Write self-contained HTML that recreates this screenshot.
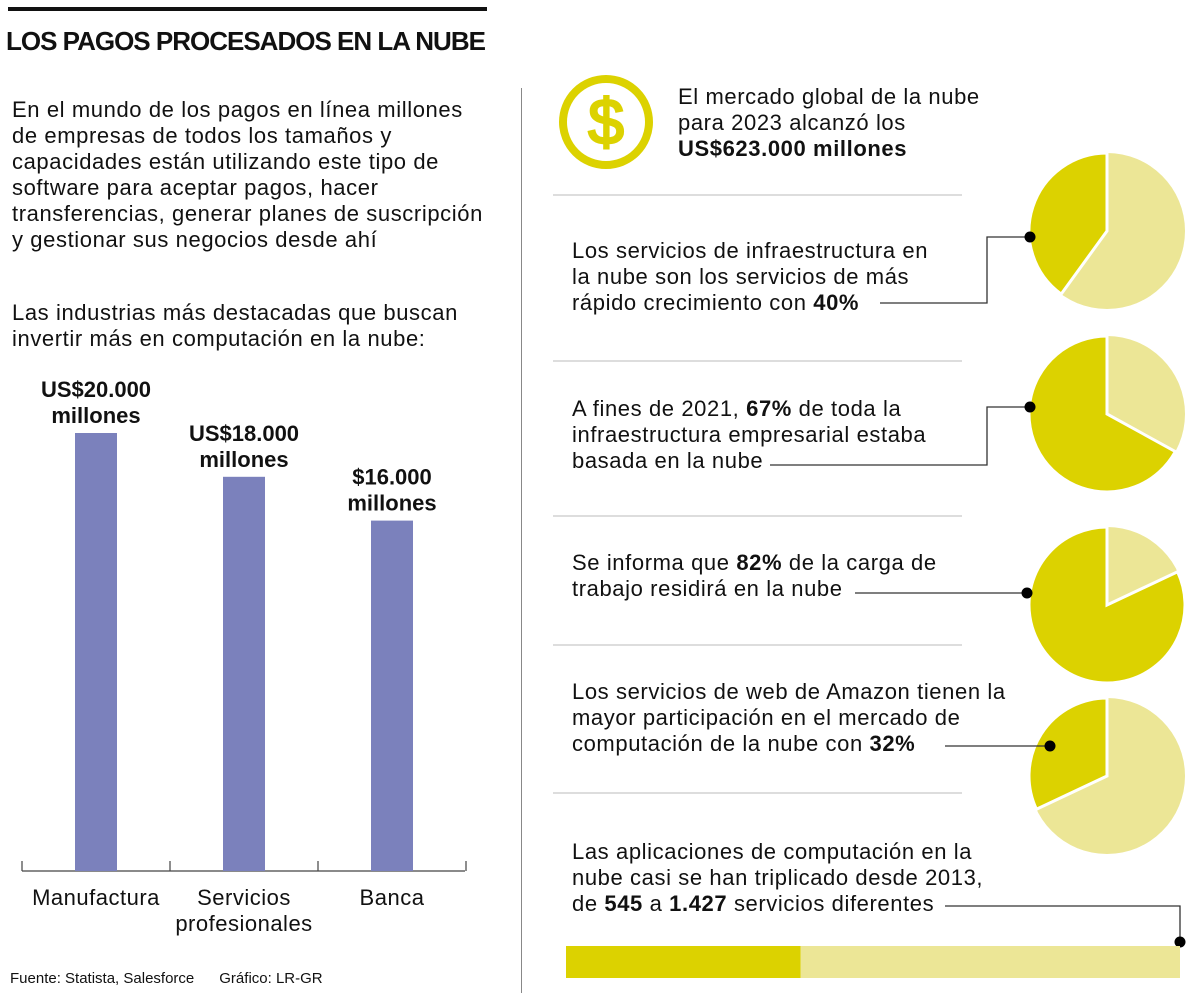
<!DOCTYPE html>
<html><head><meta charset="utf-8"><style>
body{margin:0;width:1200px;height:993px;background:#fff;position:relative;overflow:hidden;font-family:"Liberation Sans",sans-serif;color:#111}
.t{position:absolute;white-space:nowrap;font-size:22px;line-height:26px;letter-spacing:0.6px}
b{font-weight:bold}
</style></head><body>
<div style="position:absolute;left:8px;top:7px;width:479px;height:4px;background:#111"></div>
<div class="t" style="left:6px;top:26px;font-size:26px;font-weight:bold;line-height:30px;letter-spacing:-1px">LOS PAGOS PROCESADOS EN LA NUBE</div>
<div class="t" style="left:12px;top:97px">En el mundo de los pagos en línea millones<br>de empresas de todos los tamaños y<br>capacidades están utilizando este tipo de<br>software para aceptar pagos, hacer<br>transferencias, generar planes de suscripción<br>y gestionar sus negocios desde ahí</div>
<div class="t" style="left:12px;top:300px">Las industrias más destacadas que buscan<br>invertir más en computación en la nube:</div>
<svg id="bars" style="position:absolute;left:0;top:0" width="520" height="993"></svg>
<div class="t" style="left:10px;top:970px;font-size:15px;line-height:18px;letter-spacing:0">Fuente: Statista, Salesforce &nbsp;&nbsp;&nbsp;&nbsp;&nbsp;Gráfico: LR-GR</div>
<div style="position:absolute;left:521px;top:88px;width:1px;height:905px;background:#888"></div>
<svg style="position:absolute;left:556px;top:72px" width="100" height="100"><circle cx="50" cy="50" r="43" fill="none" stroke="#dcd200" stroke-width="8"/><text x="50" y="72" text-anchor="middle" font-size="64" font-family="Liberation Sans" fill="#dcd200" stroke="#dcd200" stroke-width="2.5">$</text></svg>
<div class="t" style="left:678px;top:84px">El mercado global de la nube<br>para 2023 alcanzó los<br><b>US$623.000 millones</b></div>
<svg id="right" style="position:absolute;left:0;top:0" width="1200" height="993"></svg>
<div class="t" style="left:572px;top:238px">Los servicios de infraestructura en<br>la nube son los servicios de más<br>rápido crecimiento con <b>40%</b></div>
<div class="t" style="left:572px;top:396px">A fines de 2021, <b>67%</b> de toda la<br>infraestructura empresarial estaba<br>basada en la nube</div>
<div class="t" style="left:572px;top:550px">Se informa que <b>82%</b> de la carga de<br>trabajo residirá en la nube</div>
<div class="t" style="left:572px;top:679px">Los servicios de web de Amazon tienen la<br>mayor participación en el mercado de<br>computación de la nube con <b>32%</b></div>
<div class="t" style="left:572px;top:839px">Las aplicaciones de computación en la<br>nube casi se han triplicado desde 2013,<br>de <b>545</b> a <b>1.427</b> servicios diferentes</div>
<script>
const categories=["Manufactura","Servicios\nprofesionales","Banca"];
const values=[20000,18000,16000];
const valueLabels=["US$20.000\nmillones","US$18.000\nmillones","$16.000\nmillones"];
const pieShares=[40,67,82,32];
const apps2013=545, apps2023=1427;
const NS="http://www.w3.org/2000/svg";
function mk(p,t,a,txt){const e=document.createElementNS(NS,t);for(const k in a)e.setAttribute(k,a[k]);if(txt!==undefined)e.textContent=txt;p.appendChild(e);return e;}
const bs=document.getElementById('bars');
const base=871,x0=22,bw=148;
const y=v=>base-v*0.0219;
mk(bs,'line',{x1:22,y1:base,x2:465,y2:base,stroke:'#444','stroke-width':1.2});
for(let i=0;i<=3;i++){mk(bs,'line',{x1:x0+i*bw,y1:base-10,x2:x0+i*bw,y2:base,stroke:'#444','stroke-width':1.2});}
values.forEach((v,i)=>{
 const cx=x0+bw*i+bw/2;
 const r=mk(bs,'rect',{x:cx-21,y:y(v),width:42,height:base-y(v),fill:'#7b81bc'});
 
 
 valueLabels[i].split('\n').forEach((s,j)=>{const t=mk(bs,'text',{x:cx,y:y(v)-36+j*26,'text-anchor':'middle','font-size':22,'font-weight':'bold',fill:'#111'},s);
  
  });
 categories[i].split('\n').forEach((s,j)=>{const t=mk(bs,'text',{x:cx,y:905+j*26,'text-anchor':'middle','font-size':22,'letter-spacing':0.5,fill:'#111'},s);
  
  });
});
const rs=document.getElementById('right');
[195,361,516,645,793].forEach(yy=>{const l=mk(rs,'line',{x1:553,y1:yy,x2:962,y2:yy,stroke:'#bbb','stroke-width':1});
 
 });
const DARK='#dcd200',LIGHT='#ece696';
const centers=[[1107,231],[1107,414],[1107,605],[1107,776]];
function pt(cx,cy,r,f){const a=-Math.PI/2-f*2*Math.PI;return [cx+r*Math.cos(a),cy+r*Math.sin(a)];}
pieShares.forEach((p,i)=>{
 const [cx,cy]=centers[i],r=78,f=p/100;
 const g=mk(rs,'g',{});
 
 
 mk(g,'circle',{cx,cy,r,fill:LIGHT});
 const e=pt(cx,cy,r,f);
 mk(g,'path',{d:`M${cx},${cy} L${cx},${cy-r} A${r},${r} 0 ${f>0.5?1:0} 0 ${e[0]},${e[1]} Z`,fill:DARK,stroke:'#fff','stroke-width':3,'stroke-linejoin':'miter'});
});
const conns=[
 [[1030,237],[987,237],[987,303],[880,303]],
 [[1030,407],[987,407],[987,465],[770,465]],
 [[1027,593],[855,593]],
 [[1050,746],[945,746]],
 [[1180,942],[1180,906],[945,906]]
];
conns.forEach(c=>{const pl=mk(rs,'polyline',{points:c.map(q=>q.join(',')).join(' '),fill:'none',stroke:'#333','stroke-width':1.3});
 
 
 mk(rs,'circle',{cx:c[0][0],cy:c[0][1],r:5.5,fill:'#000'});});
const bx=566,bwid=614;
const lb=mk(rs,'rect',{x:bx,y:946,width:bwid,height:32,fill:LIGHT});


const db=mk(rs,'rect',{x:bx,y:946,width:bwid*apps2013/apps2023,height:32,fill:DARK});


</script>
</body></html>
